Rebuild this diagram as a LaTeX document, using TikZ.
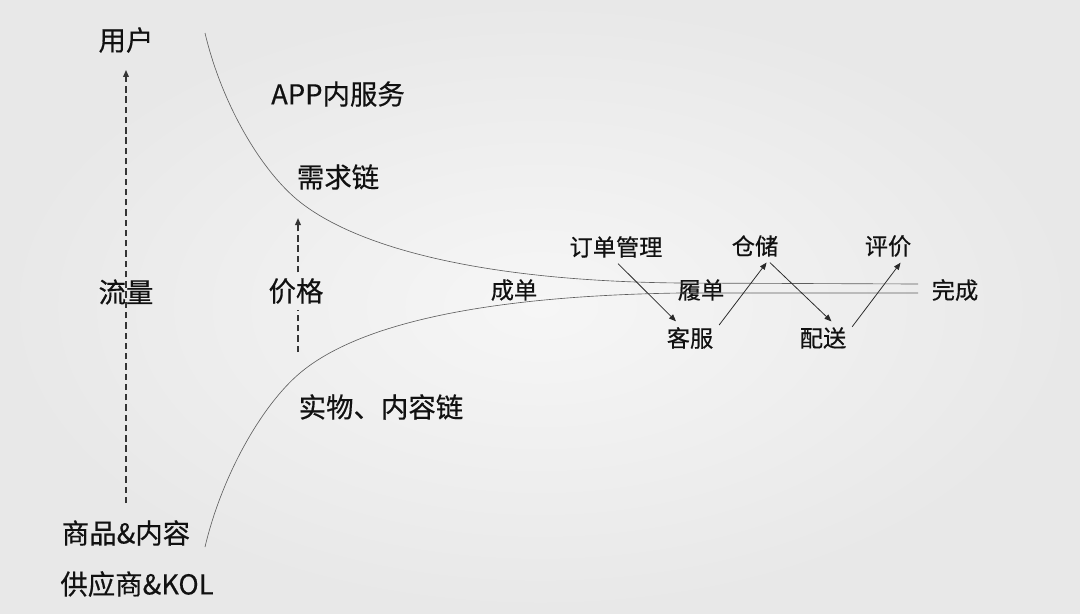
\documentclass[tikz,border=0pt]{standalone}
\usepackage{fontspec}
\setmainfont{Noto Sans CJK SC}[FakeBold=0.4]
\usetikzlibrary{arrows.meta}
\definecolor{bgin}{HTML}{F6F6F6}
\definecolor{bgout}{HTML}{E8E8E8}
\definecolor{linegray}{HTML}{5E5E5E}
\definecolor{ink}{HTML}{111111}
\begin{document}
\begin{tikzpicture}[x=0.025cm, y=-0.025cm,
  big/.style={font=\fontsize{19.5}{20}\selectfont, text=ink, inner sep=4pt},
  small/.style={font=\fontsize{16.5}{17}\selectfont, text=ink, inner sep=4pt},
  curve/.style={draw=linegray, line width=0.45pt},
  dashline/.style={draw=ink!85, line width=1.1pt, dash pattern=on 4.5pt off 2.8pt},
  tip/.style={-{Triangle[length=5pt,width=4pt]}},
  link/.style={draw=ink!90, line width=0.55pt, -{Triangle[length=5pt,width=4pt]}}]
\useasboundingbox (0,0) rectangle (1080,613);
\shade [inner color=bgin, outer color=bgout] (0,0) rectangle (1080,613); % fundo

% rotulos da esquerda
\node [big] (user) at (126,40){用户};
\node [big] (traffic) at (126,292){流量};
\node [big] (goods) at (126,533){商品\&内容};
\node [big] (supplier) at (137,584){供应商\&KOL};

% rotulos do meio
\node [big] (app) at (338,94){APP内服务};
\node [big] (demand) at (338,177){需求链};
\node [big] (price) at (296,291){价格};
\node [big] (content) at (381,407){实物、内容链};

% rotulos da direita
\node [small] (deal) at (514,290){成单};
\node [small] (order) at (616,247){订单管理};
\node [small] (service) at (690,338){客服};
\node [small] (storage) at (755,246){仓储};
\node [small] (fulfil) at (701,290){履单};
\node [small] (delivery) at (823,338){配送};
\node [small] (review) at (888,246){评价};
\node [small] (done) at (955,290){完成};

% curvas
\draw [curve] (205,33) .. controls (222,105) and (262,172) .. (300,202)
  .. controls (357,247) and (480,281) .. (680,283) -- (918,284); % demanda
\draw [curve] (205,547) .. controls (222,475) and (262,405) .. (300,373)
  .. controls (357,325) and (480,296) .. (680,293) -- (918,293); % oferta

% setas tracejadas
\draw [dashline, tip, shorten <=8pt, shorten >=8pt] (goods.north) -- (user.south);
\coordinate (pbot) at (298,352);
\coordinate (ptop) at (298,218);
\draw [dashline] (pbot) -- (pbot |- price.south);
\draw [dashline, tip] (ptop |- price.north) -- (ptop);

% setas do ciclo
\draw [link] (order.-83) -- (service.130);
\draw [link] (service.24) -- (storage.-55);
\draw [link] (storage.-48) -- (delivery.63);
\draw [link] (delivery.21) -- (review.-53);

\end{tikzpicture}
\end{document}
